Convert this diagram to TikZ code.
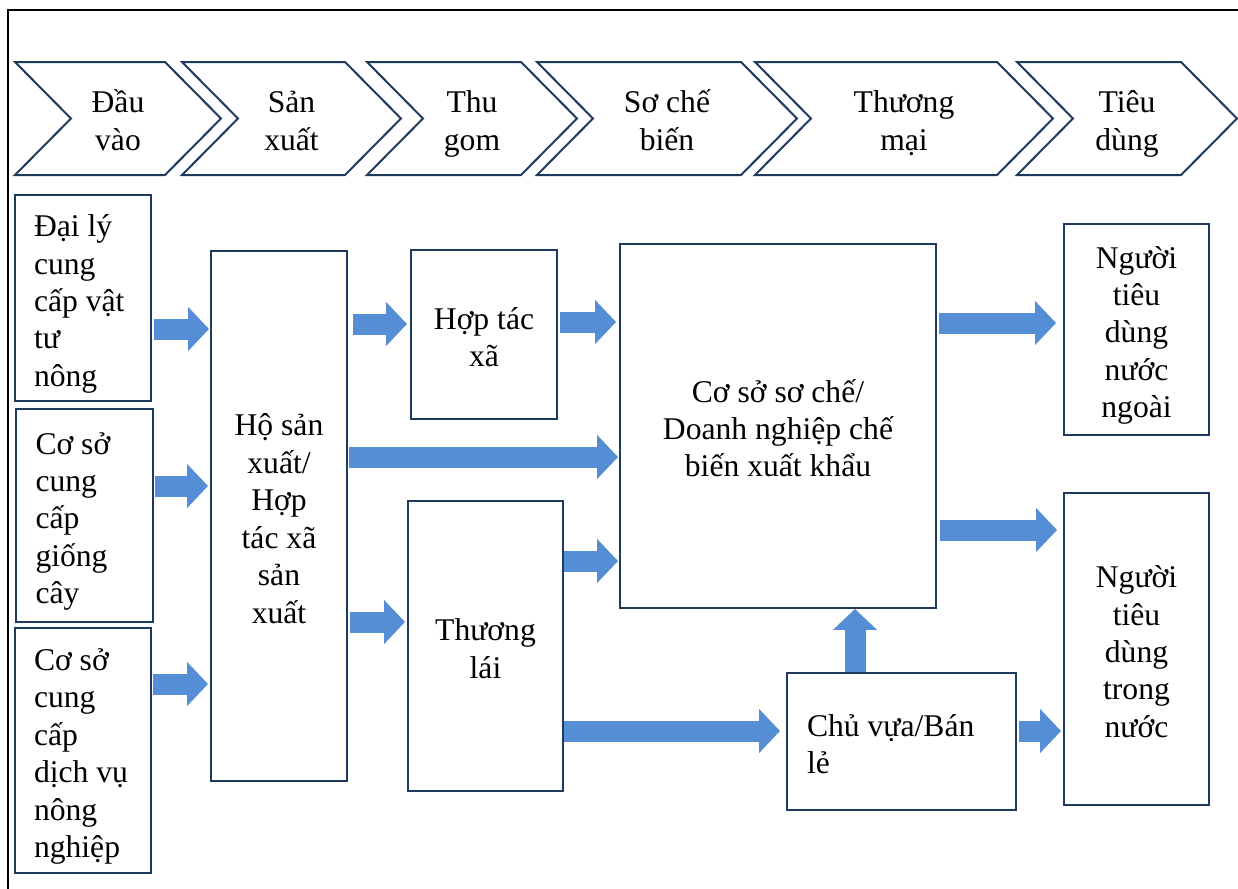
\documentclass[tikz,border=0pt]{standalone}
\usepackage{fontspec}
\setmainfont{Liberation Serif}
\usetikzlibrary{arrows.meta}
\definecolor{chainnavy}{HTML}{1F3A5F}
\definecolor{flowblue}{HTML}{558ED5}

\begin{document}
\begin{tikzpicture}[
  x=0.02cm, y=-0.02cm,
  txt/.style={font=\fontsize{18}{21.3}\selectfont, execute at begin node={\rule{0pt}{21.7pt}}, execute at end node=\strut},
  stage/.style={draw=chainnavy, line width=0.04cm, fill=white},
  box/.style={draw=chainnavy, line width=0.04cm, fill=white, txt, inner sep=0pt, align=flush center},
  lbox/.style={box, align=flush left},
  flow/.style={draw=flowblue, line width=0.42cm, -{Triangle[width=0.86cm,length=0.42cm]}},
  frame/.style={draw=black, line width=0.04cm},
]
\useasboundingbox (0,0) rectangle (1238,889);
% ---------- outer frame (runs off the page right and bottom) ----------
\draw[frame] (8,895) -- (8,10) -- (1245,10);

% ---------- value chain stages ----------
\foreach \l/\t/\lbl [count=\i] in {%
  15/221/{Đầu\\vào},
  182/401/{Sản\\xuất},
  367/577/{Thu\\gom},
  537/797/{Sơ chế\\biến},
  755/1053/{Thương\\mại},
  1017/1237/{Tiêu\\dùng}%
} {
  \draw[stage] (\l,62) -- (\t-56,62) -- (\t,118.5) -- (\t-56,175) -- (\l,175) -- (\l+56,118.5) -- cycle;
  \node[txt, align=flush center, text width=3cm] (stage\i) at ({(\l+\t)/2},118) {\lbl};
}

% ---------- actors ----------
\node[lbox, text width=1.96cm, minimum width=2.72cm, minimum height=4.12cm] (dly) at (83,298) {Đại lý\\cung\\cấp vật\\tư\\nông};
\node[lbox, text width=1.96cm, minimum width=2.74cm, minimum height=4.26cm] (csg) at (84.5,515.5) {Cơ sở\\cung\\cấp\\giống\\cây};
\node[lbox, text width=1.96cm, minimum width=2.72cm, minimum height=4.9cm] (csdv) at (83,750.5) {Cơ sở\\cung\\cấp\\dịch vụ\\nông\\nghiệp};
\node[box, text width=2.3cm, minimum width=2.72cm, minimum height=10.6cm] (hsx) at (279,516) {Hộ sản\\xuất/\\Hợp\\tác xã\\sản\\xuất};
\node[box, text width=2.5cm, minimum width=2.92cm, minimum height=3.38cm] (htx) at (484,334.5) {Hợp tác\\xã};
\node[box, text width=2.7cm, minimum width=3.1cm, minimum height=5.8cm] (tl) at (485.5,646) {Thương\\lái};
\node[box, text width=5.9cm, minimum width=6.32cm, minimum height=7.28cm] (csc) at (778,426) {Cơ sở sơ chế/\\Doanh nghiệp chế\\biến xuất khẩu};
\node[lbox, text width=3.78cm, minimum width=4.58cm, minimum height=2.74cm] (cv) at (901.5,741.5) {Chủ vựa/Bán\\lẻ};
\node[box, text width=2.5cm, minimum width=2.9cm, minimum height=4.22cm] (nnn) at (1136.5,329.5) {Người\\tiêu\\dùng\\nước\\ngoài};
\node[box, text width=2.5cm, minimum width=2.9cm, minimum height=6.24cm] (ntn) at (1136.5,649) {Người\\tiêu\\dùng\\trong\\nước};

% ---------- flows ----------
\foreach \src/\dst/\yc/\st/\en in {%
  dly/hsx/329/0.04cm/0.02cm,
  csg/hsx/486/0.02cm/0.04cm,
  csdv/hsx/684/0.02cm/0.04cm,
  hsx/htx/324/0.1cm/0.06cm,
  htx/csc/322/0.04cm/0.06cm,
  hsx/csc/457/0.02cm/0.02cm,
  hsx/tl/622/0.04cm/0.04cm,
  tl/csc/561/0cm/0.02cm,
  tl/cv/731/0cm/0.12cm,
  csc/nnn/323/0.04cm/0.14cm,
  csc/ntn/530/0.06cm/0.12cm,
  cv/ntn/731/0.04cm/0.04cm%
} {
  \draw[flow, shorten <=\st, shorten >=\en] (\src.east |- 0,\yc) -- (\dst.west |- 0,\yc);
}
\draw[flow] (cv.north -| 855,0) -- (csc.south -| 855,0);
\end{tikzpicture}
\end{document}
